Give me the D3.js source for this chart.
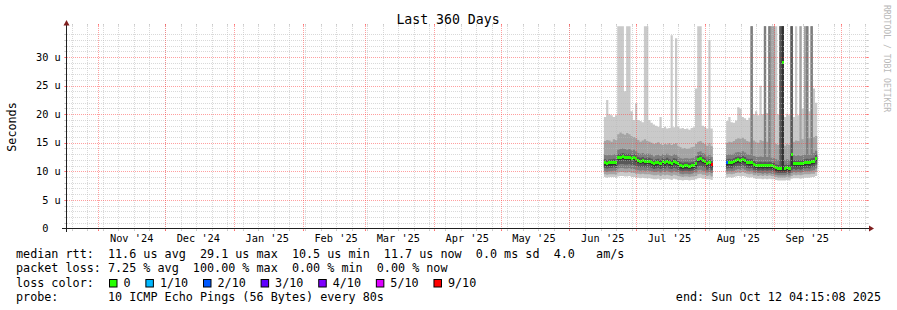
<!DOCTYPE html>
<html>
<head>
<meta charset="utf-8">
<script src="https://cdn.jsdelivr.net/npm/d3@7"></script>
<style>
  body { margin: 0; background: #fff; }
  text { font-family: "DejaVu Sans Mono", monospace; white-space: pre; }
</style>
</head>
<body>
<svg id="chart" width="897" height="310"></svg>
<script>
var DAY = 864e5
var rangeStart = new Date(Date.UTC(2024, 9, 17, 4, 15, 8))
var rangeEnd = new Date(Date.UTC(2025, 9, 12, 4, 15, 8))

// first sample of each block of data (one sample per day)
var startA = Date.UTC(2025, 5, 16, 12)
var startB = Date.UTC(2025, 7, 10, 12)

// block A : Jun 16 - Aug 3 (us)
var medA = [11.5,11.4,11.5,11.5,11.6,11.5,12.4,12.5,12.6,12.5, 12.4,12.5,12.3,12.4,12.2,11.9,11.8,11.9,11.7,11.8,
  11.8,11.6,11.3,11.5,11.6,11.4,11.7,11.5,11.8,11.5, 11.4,11.7,11.6,11.3,11.0,10.9,11.0,11.0,10.9,11.0, 11.1,11.4,12.1,12.2,11.9,11.8,11.3,11.6,11.2]
var lossA = [0,0,0,0,0,0,0,0,0,0, 0,0,0,0,0,0,0,0,0,0, 0,0,0,0,0,0,0,0,0,0, 0,0,0,0,0,0,0,0,0,0, 0,0,0,0,0,0,0,0,9]
var p10A = [19.5,22.5,20.0,19.8,19.5,19.8,40,40,40,24, 40,40,20.5,19.0,21.9,19.0,18.8,18.6,40,40,
  19.0,18.5,18.2,18.0,17.8,19.5,17.6,17.8,17.5,17.6, 33.8,17.7,33.3,17.8,17.5,17.6,17.4,17.5,17.3,17.6, 17.7,24.5,40,40,18.0,17.8,17.5,33,17.5]
var p9A = [15.3,15.5,15.4,15.2,15.6,15.5,16.5,16.8,16.6,16.4, 16.7,16.5,16.2,16.0,15.8,15.5,15.2,15.4,15.6,15.3,
  15.2,15.0,14.8,14.9,15.1,14.8,14.6,14.8,14.7,14.9, 14.6,14.8,14.9,14.5,14.2,14.0,14.1,13.9,14.0,14.2, 14.3,14.8,15.2,15.3,15.0,14.8,14.5,14.9,14.4]
var p8A = [12.9,12.8,12.9,12.8,13.0,12.9,13.8,13.9,14.0,13.9, 13.8,13.9,13.7,13.8,13.5,13.2,13.1,13.2,13.0,13.1,
  13.1,12.9,12.6,12.8,12.9,12.7,13.0,12.8,13.1,12.8, 12.7,13.0,12.9,12.6,12.3,12.2,12.3,12.3,12.2,12.3, 12.4,12.7,13.4,13.5,13.2,13.1,12.6,12.9,12.5]
var p7A = [12.1,12.0,12.1,12.1,12.2,12.1,13.0,13.1,13.2,13.1, 13.0,13.1,12.9,13.0,12.8,12.5,12.4,12.5,12.3,12.4,
  12.4,12.2,11.9,12.1,12.2,12.0,12.3,12.1,12.4,12.1, 12.0,12.3,12.2,11.9,11.6,11.5,11.6,11.6,11.5,11.6, 11.7,12.0,12.7,12.8,12.5,12.4,11.9,12.2,11.8]
var p6A = [11.7,11.6,11.7,11.7,11.8,11.7,12.6,12.7,12.8,12.7, 12.6,12.7,12.5,12.6,12.4,12.1,12.0,12.1,11.9,12.0,
  12.0,11.8,11.5,11.7,11.8,11.6,11.9,11.7,12.0,11.7, 11.6,11.9,11.8,11.5,11.2,11.1,11.2,11.2,11.1,11.2, 11.3,11.6,12.3,12.4,12.1,12.0,11.5,11.8,11.4]
var p5A = [11.0,10.9,11.0,11.0,11.1,11.0,11.9,12.0,12.1,12.0, 11.9,12.0,11.8,11.9,11.7,11.4,11.3,11.4,11.2,11.3,
  11.3,11.1,10.8,11.0,11.1,10.9,11.2,11.0,11.3,11.0, 10.9,11.2,11.1,10.8,10.5,10.4,10.5,10.5,10.4,10.5, 10.6,10.9,11.6,11.7,11.4,11.3,10.8,11.1,10.7]
var p4A = [10.6,10.5,10.6,10.6,10.7,10.6,11.2,11.3,11.3,11.2, 11.2,11.3,11.1,11.1,11.0,10.8,10.7,10.8,10.7,10.7,
  10.7,10.6,10.4,10.5,10.6,10.4,10.6,10.5,10.7,10.5, 10.4,10.6,10.5,10.3,10.1,10.0,10.1,10.1,10.0,10.1, 10.2,10.4,10.9,11.0,10.8,10.7,10.3,10.5,10.2]
var p3A = [10.0,9.9,10.0,10.0,10.1,10.0,10.5,10.6,10.6,10.5, 10.5,10.6,10.4,10.4,10.3,10.2,10.1,10.2,10.1,10.1,
  10.1,10.0,9.9,9.9,10.0,9.8,10.0,9.9,10.1,9.9, 9.8,10.0,9.9,9.8,9.6,9.5,9.6,9.6,9.5,9.6, 9.7,9.8,10.2,10.3,10.1,10.0,9.8,9.9,9.7]
var p2A = [9.5,9.4,9.5,9.5,9.5,9.4,9.8,9.9,9.9,9.8, 9.8,9.9,9.7,9.7,9.6,9.6,9.5,9.6,9.5,9.5,
  9.5,9.4,9.3,9.3,9.4,9.2,9.4,9.3,9.4,9.3, 9.2,9.4,9.3,9.2,9.1,9.0,9.1,9.1,9.0,9.1, 9.1,9.2,9.5,9.6,9.4,9.4,9.2,9.3,9.1]
var p1A = [9.0,8.9,9.0,9.0,9.0,8.9,9.1,9.2,9.2,9.1, 9.1,9.2,9.0,9.0,8.9,8.9,8.8,8.9,8.8,8.8,
  8.8,8.7,8.6,8.6,8.7,8.5,8.7,8.6,8.7,8.6, 8.5,8.7,8.6,8.5,8.5,8.4,8.5,8.5,8.4,8.5, 8.5,8.6,8.8,8.9,8.7,8.7,8.6,8.6,8.5]

// block B : Aug 10 - Sep 19 (us)
var medB = [11.5,11.6,11.5,11.7,11.9,12.0,11.9,12.1,11.9,11.6, 11.5,11.6,11.2,11.1,11.0,11.1,11.0,11.1,11.0,11.1,
  11.0,10.9,10.6,10.5,10.5,29.1,10.5,10.6,10.5,12.9, 11.4,11.3,11.4,11.3,11.4,11.5,11.6,11.5,11.7,11.8, 12.3]
var lossB = [2,0,0,0,0,0,0,0,0,0, 0,0,0,0,0,0,0,0,0,0, 0,0,0,0,0,0,0,0,0,0, 0,0,0,0,0,0,0,0,0,0, 0]
var p10B = [18.8,19.5,18.6,18.5,18.9,21.2,21.0,19.5,19.3,19.0, 19.4,40,20.0,20.5,19.8,25.0,20.0,40,20.2,40,
  40,40,40,20.0,40,40,19.5,20.1,19.8,40, 19.5,40,19.8,40,21,40,40,20.5,40,24.5, 22.0]
var p9B = [15.0,15.2,15.1,15.3,15.6,15.8,15.7,15.9,15.6,15.3, 15.2,40,15.4,15.2,15.0,15.5,15.3,40,15.2,40,
  40,40,14.8,14.6,40,40,14.5,14.8,14.6,40, 15.2,15.4,15.3,40,15.6,40,40,15.8,40,16.0, 16.2]
var p8B = [12.9,13.0,12.9,13.1,13.3,13.4,13.3,13.5,13.3,13.0, 12.9,40,12.7,12.6,12.5,12.6,12.5,40,12.5,40,
  12.4,12.3,12.1,12.0,40,40,12.0,12.1,12.0,40, 12.8,12.7,12.8,12.7,12.8,12.9,40,12.9,40,13.2, 13.6]
var p7B = [12.1,12.2,12.1,12.3,12.5,12.6,12.5,12.7,12.5,12.2, 12.1,12.2,11.8,11.7,11.6,11.7,11.6,11.7,11.6,11.7,
  11.6,11.5,11.2,11.1,40,40,11.1,11.2,11.1,40, 12.0,11.9,12.0,11.9,12.0,12.1,12.2,12.1,12.3,12.4, 12.9]
var p6B = [11.7,11.8,11.7,11.9,12.1,12.2,12.1,12.3,12.1,11.8, 11.7,11.8,11.4,11.3,11.2,11.3,11.2,11.3,11.2,11.3,
  11.2,11.1,10.8,10.7,10.7,40,10.7,10.8,10.7,13.1, 11.6,11.5,11.6,11.5,11.6,11.7,11.8,11.7,11.9,12.0, 12.5]
var p5B = [11.0,11.1,11.0,11.2,11.4,11.5,11.4,11.6,11.4,11.1, 11.0,11.1,10.7,10.6,10.5,10.6,10.5,10.6,10.5,10.6,
  10.5,10.4,10.1,10.0,10.0,10.0,10.0,10.1,10.0,11.0, 10.9,10.8,10.9,10.8,10.9,11.0,11.1,11.0,11.2,11.3, 11.8]
var p4B = [10.5,10.6,10.5,10.7,10.9,11.0,10.9,11.1,10.9,10.6, 10.5,10.6,10.3,10.2,10.1,10.2,10.1,10.2,10.1,10.2,
  10.1,10.0,9.8,9.7,9.7,9.7,9.7,9.8,9.7,10.2, 10.4,10.3,10.4,10.3,10.4,10.5,10.6,10.5,10.7,10.8, 11.2]
var p3B = [10.0,10.1,10.0,10.1,10.3,10.4,10.3,10.5,10.3,10.1, 10.0,10.1,9.8,9.7,9.7,9.7,9.6,9.7,9.6,9.7,
  9.6,9.6,9.4,9.3,9.3,9.3,9.3,9.4,9.3,9.7, 9.9,9.8,9.9,9.8,9.9,10.0,10.0,10.0,10.1,10.2, 10.5]
var p2B = [9.5,9.6,9.5,9.6,9.7,9.8,9.7,9.9,9.7,9.6, 9.5,9.6,9.3,9.3,9.2,9.3,9.2,9.3,9.2,9.3,
  9.2,9.2,9.0,8.9,8.9,8.9,8.9,9.0,8.9,9.2, 9.4,9.3,9.4,9.3,9.4,9.5,9.5,9.5,9.6,9.6, 9.9]
var p1B = [8.9,9.0,8.9,9.0,9.1,9.2,9.1,9.2,9.1,9.0, 8.9,9.0,8.8,8.7,8.7,8.7,8.6,8.7,8.6,8.7,
  8.6,8.6,8.5,8.4,8.4,8.4,8.4,8.5,8.4,8.7, 8.8,8.8,8.8,8.7,8.8,8.9,8.9,8.9,9.0,9.0, 9.2]

var smokeColors = ['#cacaca', '#a4a4a4', '#7e7e7e', '#585858', '#323232']
var lossLevels = [0, 1, 2, 3, 4, 5, 9]
var lossLabels = ['0', '1/10', '2/10', '3/10', '4/10', '5/10', '9/10']
var lossColors = ['#26ff00', '#00b8ff', '#0059ff', '#5e00ff', '#7e00ff', '#dd00ff', '#ff0000']
var yTicks = [0, 5, 10, 15, 20, 25, 30]

var title = 'Last 360 Days'
var yTitle = 'Seconds'
var legendLines = [
  'median rtt:  11.6 us avg  29.1 us max  10.5 us min  11.7 us now  0.0 ms sd  4.0   am/s',
  'packet loss: 7.25 % avg  100.00 % max  0.00 % min  0.00 % now'
]
var lossTitle = 'loss color:'
var probeLine = 'probe:       10 ICMP Echo Pings (56 Bytes) every 80s'
var endLine = 'end: Sun Oct 12 04:15:08 2025'
var watermark = 'RRDTOOL / TOBI OETIKER'

var blocks = [
  {start: startA, med: medA, loss: lossA, p: [p1A, p2A, p3A, p4A, p5A, p6A, p7A, p8A, p9A, p10A]},
  {start: startB, med: medB, loss: lossB, p: [p1B, p2B, p3B, p4B, p5B, p6B, p7B, p8B, p9B, p10B]}
]

var X0 = 66.5, X1 = 866, Y0 = 228.5, Y1 = 26.2
var gridCol = 'rgba(186,186,186,0.55)', mgridCol = 'rgba(255,64,64,0.5)'

var xScale = d3.scaleTime().domain([rangeStart, rangeEnd]).range([65.4, 865.4])
var yScale = d3.scaleLinear().domain([0, 35.4]).range([Y0, Y1])

var svg = d3.select('#chart')
svg.append('rect').attr('width', 897).attr('height', 310).attr('fill', '#fff')

svg.append('clipPath').attr('id', 'plot')
  .append('rect').attr('x', 67).attr('y', Y1).attr('width', X1 - 67).attr('height', Y0 - Y1)

var canvas = svg.append('g').attr('clip-path', 'url(#plot)')

// smoke : band k spans ping k .. ping 11-k
var area = d3.area()
  .x(d => xScale(d.t))
  .y0(d => yScale(d.lo))
  .y1(d => yScale(d.hi))
  .curve(d3.curveStepAfter)

blocks.forEach(b => {
  smokeColors.forEach((col, k) => {
    var lo = b.p[k], hi = b.p[9 - k]
    var pts = lo.map((v, i) => ({t: b.start + i * DAY, lo: v, hi: hi[i]}))
    var last = pts[pts.length - 1]
    pts.push({t: b.start + lo.length * DAY, lo: last.lo, hi: last.hi})
    canvas.append('path').attr('d', area(pts)).attr('fill', col)
  })
})

function lossColor(l) {
  var c = lossColors[0]
  lossLevels.forEach((lv, i) => { if (l >= lv) c = lossColors[i] })
  return c
}

// median, one short bar per sample, coloured by loss
blocks.forEach(b => {
  canvas.selectAll(null).data(b.med).enter().append('rect')
    .attr('x', (d, i) => xScale(b.start + i * DAY))
    .attr('width', (d, i) => xScale(b.start + (i + 1) * DAY) - xScale(b.start + i * DAY))
    .attr('y', d => yScale(d) - 1.5)
    .attr('height', 3)
    .attr('fill', (d, i) => lossColor(b.loss[i]))
    .attr('shape-rendering', 'crispEdges')
})

// grid, drawn over the graph like rrdtool does
var grid = svg.append('g').attr('shape-rendering', 'crispEdges').attr('stroke-width', 1)

function hLine(y, col) {
  y = Math.round(y) + 0.5
  grid.append('line').attr('x1', X0 - 2).attr('x2', X1 + 2).attr('y1', y).attr('y2', y)
    .attr('stroke', col).attr('stroke-dasharray', '1,1')
  grid.append('line').attr('x1', X0 - 2.5).attr('x2', X0).attr('y1', y).attr('y2', y).attr('stroke', col)
  grid.append('line').attr('x1', X1).attr('x2', X1 + 2.5).attr('y1', y).attr('y2', y).attr('stroke', col)
}
function vLine(x, col) {
  x = Math.round(x) + 0.5
  grid.append('line').attr('x1', x).attr('x2', x).attr('y1', Y1 - 2).attr('y2', Y0 + 2)
    .attr('stroke', col).attr('stroke-dasharray', '1,1')
  grid.append('line').attr('x1', x).attr('x2', x).attr('y1', Y0).attr('y2', Y0 + 2.5).attr('stroke', col)
  grid.append('line').attr('x1', x).attr('x2', x).attr('y1', Y1 - 2.5).attr('y2', Y1).attr('stroke', col)
}

d3.range(1, 36).filter(v => v % 5 != 0).forEach(v => hLine(yScale(v), gridCol))
d3.utcSunday.range(rangeStart, rangeEnd).forEach(t => vLine(xScale(t), gridCol))
yTicks.filter(v => v > 0).forEach(v => hLine(yScale(v), mgridCol))
var months = d3.utcMonth.range(rangeStart, rangeEnd)
months.forEach(t => vLine(xScale(t), mgridCol))

// axes
var axisCol = '#202020'
svg.append('line').attr('x1', 62).attr('x2', 870).attr('y1', Y0).attr('y2', Y0).attr('stroke', axisCol)
svg.append('line').attr('x1', X0).attr('x2', X0).attr('y1', Y0 + 3.5).attr('y2', 23).attr('stroke', axisCol)
svg.append('path').attr('d', 'M869,225.5L874,228.5L869,231.5Z').attr('fill', '#7f1f1f')
svg.append('path').attr('d', 'M63.5,25.5L66.5,20L69.5,25.5Z').attr('fill', '#7f1f1f')

// month labels, centred half a month after each month start
var fmtMonth = d3.utcFormat("%b '%y")
svg.append('g').selectAll('text')
  .data(months.map(m => d3.utcDay.offset(m, 15)).filter(t => t > rangeStart && t < rangeEnd))
  .enter().append('text')
  .attr('x', d => xScale(d)).attr('y', 241.5)
  .attr('text-anchor', 'middle').attr('font-size', 10.3).attr('fill', '#000')
  .text(d => fmtMonth(d3.utcDay.offset(d, -15)))

// y labels
var yl = svg.append('g').attr('font-size', 10.3).attr('fill', '#000')
yTicks.forEach(v => {
  yl.append('text').attr('x', 48.5).attr('y', yScale(v) + 3.7).attr('text-anchor', 'end').text(v)
  if (v > 0) yl.append('text').attr('x', 54.4).attr('y', yScale(v) + 3.7).text('u')
})

svg.append('text').attr('x', 448).attr('y', 23.5).attr('text-anchor', 'middle')
  .attr('font-size', 13.2).attr('fill', '#000').text(title)

svg.append('text').attr('transform', 'translate(16,127) rotate(-90)')
  .attr('text-anchor', 'middle').attr('font-size', 11.76).attr('fill', '#000').text(yTitle)

svg.append('text').attr('transform', 'translate(883.5,5) rotate(90)')
  .attr('font-size', 8.1).attr('fill', '#b8b8b8').text(watermark)

// legend
var charW = 11.76 * 0.602
var leg = svg.append('g').attr('font-size', 11.76).attr('fill', '#000')
legendLines.forEach((s, i) => {
  leg.append('text').attr('x', 16).attr('y', 258 + i * 14).text(s)
})
leg.append('text').attr('x', 16).attr('y', 286.5).text(lossTitle)
var cx = 109
lossLabels.forEach((lab, i) => {
  leg.append('rect').attr('x', cx + 0.5).attr('y', 279.5).attr('width', 7.5).attr('height', 7.5)
    .attr('fill', lossColors[i]).attr('stroke', '#000').attr('stroke-width', 1)
  leg.append('text').attr('x', cx + 14.5).attr('y', 286.5).text(lab)
  cx += 14.5 + lab.length * charW + 14.8
})
leg.append('text').attr('x', 16).attr('y', 300.5).text(probeLine)
leg.append('text').attr('x', 881).attr('y', 300.5).attr('text-anchor', 'end').text(endLine)
</script>
</body>
</html>
